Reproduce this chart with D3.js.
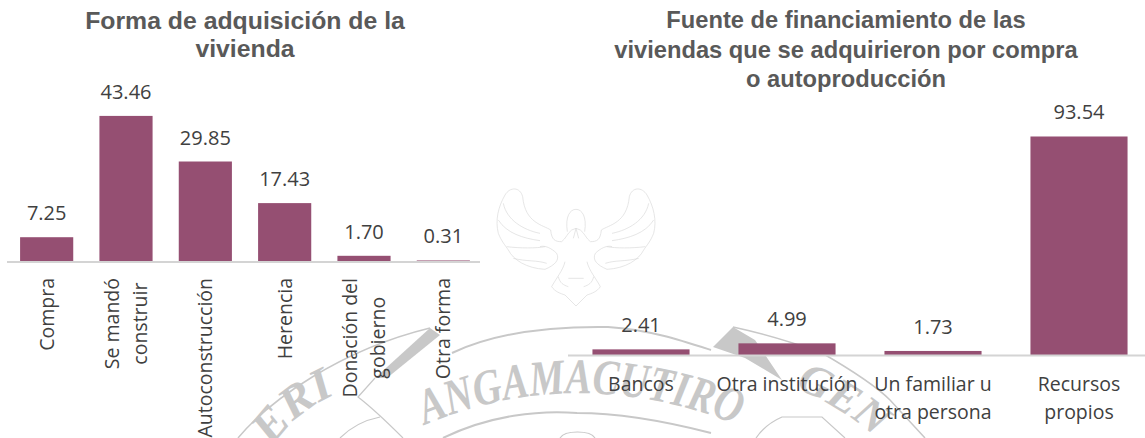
<!DOCTYPE html>
<html><head><meta charset="utf-8">
<style>html,body{margin:0;padding:0;background:#fff}svg{display:block}</style>
<script src="https://cdn.jsdelivr.net/npm/d3@7"></script></head>
<body><svg id="c" width="1145" height="438"></svg>
<script>
const categoriesA = [["Compra"],["Se mandó","construir"],["Autoconstrucción"],["Herencia"],["Donación del","gobierno"],["Otra forma"]];
const valuesA = [7.25,43.46,29.85,17.43,1.70,0.31];
const titleA = ["Forma de adquisición de la","vivienda"];
const categoriesB = [["Bancos"],["Otra institución"],["Un familiar u","otra persona"],["Recursos","propios"]];
const valuesB = [2.41,4.99,1.73,93.54];
const titleB = ["Fuente de financiamiento de las","viviendas que se adquirieron por compra","o autoproducción"];
const BAR="#954f72", TXT="#404040", AX="#d4d4d4", TITLE="#595959", WM="#c8c8c8";
const FONT="'Open Sans',sans-serif";
const svg=d3.select("#c");

// watermark (decorative seal behind the charts)
const wm=svg.append("g");
const defs=svg.append("defs");
[["arcM","M 425 425 Q 580 360 745 428","ANGAMACUTIRO",50,320],
 ["arcL","M 272 447 Q 300 405 352 388","ERI",46,84],
 ["arcR","M 795 388 Q 850 410 895 455","GEN",44,95]].forEach(([id,d,t,fs,len])=>{
  defs.append("path").attr("id",id).attr("d",d);
  wm.append("text").attr("font-family","'Liberation Serif',serif").attr("font-weight","bold").attr("font-style","italic")
    .attr("font-size",fs).attr("fill",WM)
    .append("textPath").attr("href","#"+id).attr("textLength",len).attr("lengthAdjust","spacingAndGlyphs").text(t);
});
[["M 238 438 C 270 400 340 350 430 328",1.5],
 ["M 452 353 C 490 335 540 326 608 327 C 650 330 680 340 711 350",2],
 ["M 733 327 C 770 335 800 345 822 353 C 860 375 880 390 890 400 L 925 438",1.5],
 ["M 443 438 C 490 415 540 410 577 413 C 630 413 680 425 711 433",2],
 ["M 375 378 L 358 397 C 375 410 390 425 403 438",1.2],
 ["M 340 438 C 350 428 365 420 380 417",1.2],
 ["M 756 438 C 765 425 775 420 782 417 L 822 417 L 845 438",1.2],
 ["M 560 438 C 565 430 590 430 595 438",1.2]
].forEach(([d,w])=>wm.append("path").attr("d",d).attr("fill","none").attr("stroke",WM).attr("stroke-width",w));
wm.append("path").attr("d","M 430 328 L 440 335 L 387 378 L 375 378 Z").attr("fill",WM);
wm.append("path").attr("d","M 733 327 L 713 347 L 745 358 L 782 380 L 755 340 Z").attr("fill",WM);
const eagleHalf=[
 "M 245 215 C 225 215 215 210 212 180 C 190 165 135 160 128 80 C 120 50 90 50 75 75 C 55 110 45 150 55 190 C 65 215 75 225 85 240 C 100 270 140 295 195 298 C 225 285 240 270 230 250 C 215 235 195 225 180 230",
 "M 70 100 C 80 150 130 180 180 190","M 55 150 C 80 190 130 205 180 212","M 80 230 C 120 235 170 235 195 230","M 100 265 C 140 275 170 270 200 280",
 "M 255 275 C 250 300 225 330 215 350 C 225 365 240 370 255 375 L 288 408","M 235 320 C 240 340 250 345 265 350","M 265 325 L 288 325",
 "M 262 185 C 255 140 270 118 288 118","M 288 175 L 280 205","M 245 215 C 258 205 262 190 275 180 L 288 175"];
[`translate(480,170) scale(${1/3})`,`translate(672,170) scale(${-1/3},${1/3})`].forEach(tf=>{
  const e=wm.append("g").attr("transform",tf).attr("fill","none").attr("stroke","#dadada").attr("stroke-width",2);
  eagleHalf.forEach(d=>e.append("path").attr("d",d));
});

function chart(cfg){
  const {cats,vals,x0,x1,base,unit,titleLines,titleX,titleY,titleLH}=cfg;
  const g=svg.append("g");
  const x=d3.scaleBand().domain(cats.map((_,i)=>i)).range([cfg.bandL,cfg.bandR]).paddingInner(cfg.pad).paddingOuter(cfg.pad/2);
  const y=d3.scaleLinear().domain([0,100]).range([base,base-100*unit]);
  g.selectAll("rect").data(vals).join("rect").attr("x",(d,i)=>x(i)).attr("y",d=>y(d)).attr("width",x.bandwidth()).attr("height",d=>base-y(d)).attr("fill",BAR);
  const ax=g.append("g").attr("transform",`translate(0,${base})`).call(d3.axisBottom(d3.scalePoint().domain([]).range([x0,x1])).tickSize(0));
  ax.select(".domain").attr("d",`M${x0},0.5H${x1}`).attr("stroke",AX).attr("stroke-width",2);
  g.selectAll(".v").data(vals).join("text").attr("x",(d,i)=>x(i)+x.bandwidth()/2).attr("y",d=>y(d)-cfg.lblGap)
    .attr("text-anchor","middle").attr("font-family",FONT).attr("font-size",cfg.vs).attr("fill",TXT).text(d=>d.toFixed(2));
  titleLines.forEach((t,i)=>svg.append("text").attr("x",titleX).attr("y",titleY+i*titleLH).attr("text-anchor","middle")
    .attr("font-family","'Liberation Sans',sans-serif").attr("font-weight","bold").attr("font-size",cfg.ts).attr("fill",TITLE).text(t));
  return x;
}
const xA=chart({cats:categoriesA,vals:valuesA,x0:7,x1:480,base:261.5,unit:3.35,bandL:7,bandR:483,pad:0.33,titleLines:titleA,titleX:245,titleY:29,titleLH:28,ts:24.8,lblGap:17,vs:20});
categoriesA.forEach((lines,i)=>{
  const cx=xA(i)+xA.bandwidth()/2;
  const t=svg.append("text").attr("text-anchor","middle").attr("font-family",FONT).attr("font-size",19.5).attr("fill",TXT);
  const n=lines.length;
  lines.forEach((l,j)=>t.append("tspan").attr("x",0).attr("y",(j-(n-1)/2)*28+7).text(l));
  const maxLen=d3.max(t.selectAll("tspan").nodes(),s=>s.getComputedTextLength());
  t.attr("transform",`translate(${cx},${278+maxLen/2}) rotate(-90)`);
});
const xB=chart({cats:categoriesB,vals:valuesB,x0:568,x1:1145,base:355,unit:2.336,bandL:568,bandR:1152,pad:0.335,titleLines:titleB,titleX:846,titleY:28,titleLH:29.5,ts:23.7,lblGap:17,vs:20});
categoriesB.forEach((lines,i)=>{
  const cx=xB(i)+xB.bandwidth()/2;
  lines.forEach((l,j)=>svg.append("text").attr("x",cx).attr("y",391+j*28).attr("text-anchor","middle").attr("font-family",FONT).attr("font-size",19.5).attr("fill",TXT).text(l));
});
</script></body></html>
